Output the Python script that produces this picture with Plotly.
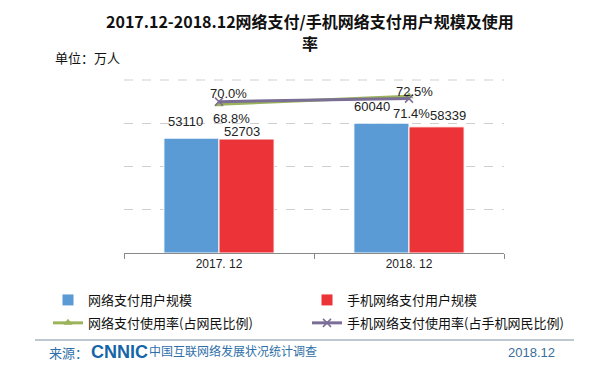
import plotly.graph_objects as go

categories = ["2017. 12", "2018. 12"]
online_users = [53110, 60040]
mobile_users = [52703, 58339]
online_rate = [68.8, 72.5]
mobile_rate = [70.0, 71.4]

names = ["网络支付用户规模", "手机网络支付用户规模",
         "网络支付使用率(占网民比例)", "手机网络支付使用率(占手机网民比例)"]

BLUE = "#5B9BD5"
RED = "#EB3338"
GREEN = "#9BB35A"
PURPLE = "#7B6E96"
FOOT = "#2E6FA8"
LBL = "Liberation Sans, Arial, sans-serif"
CJK = "Noto Sans CJK SC, sans-serif"

fig = go.Figure()
fig.add_trace(go.Bar(x=categories, y=online_users, name=names[0], marker=dict(color=BLUE, line=dict(color="white", width=1)),
                     legend="legend", legendgroup="a"))
fig.add_trace(go.Bar(x=categories, y=mobile_users, name=names[1], marker=dict(color=RED, line=dict(color="white", width=1)),
                     legend="legend2", legendgroup="b"))
fig.add_trace(go.Scatter(x=categories, y=online_rate, name=names[2], yaxis="y2", mode="lines+markers",
                         line=dict(color=GREEN, width=3), marker=dict(symbol="triangle-up", size=8, color=GREEN),
                         legend="legend", legendgroup="c"))
fig.add_trace(go.Scatter(x=categories, y=mobile_rate, name=names[3], yaxis="y2", mode="lines+markers",
                         line=dict(color=PURPLE, width=3), marker=dict(symbol="x-thin", size=8, color=PURPLE,
                                                                       line=dict(color=PURPLE, width=1.5)),
                         legend="legend2", legendgroup="d"))

ann = []
# bar value labels
bar_shift = [(-34, 17), (-37, 17)]
red_shift = [(23, 8), (39, 11)]
for i in range(2):
    ann.append(dict(x=i, y=online_users[i], xref="x", yref="y", text=str(online_users[i]), showarrow=False,
                    xshift=bar_shift[i][0], yshift=bar_shift[i][1], font=dict(size=13, color="#222", family=LBL)))
    ann.append(dict(x=i, y=mobile_users[i], xref="x", yref="y", text=str(mobile_users[i]), showarrow=False,
                    xshift=red_shift[i][0], yshift=red_shift[i][1], font=dict(size=13, color="#222", family=LBL)))
on_shift = [(12, -14), (5, 5)]
mo_shift = [(9, 8), (2, -15)]
for i in range(2):
    ann.append(dict(x=i, y=online_rate[i], xref="x", yref="y2", text=f"{online_rate[i]:.1f}%", showarrow=False,
                    xshift=on_shift[i][0], yshift=on_shift[i][1], font=dict(size=13, color="#222", family=LBL)))
    ann.append(dict(x=i, y=mobile_rate[i], xref="x", yref="y2", text=f"{mobile_rate[i]:.1f}%", showarrow=False,
                    xshift=mo_shift[i][0], yshift=mo_shift[i][1], font=dict(size=13, color="#222", family=LBL)))

W, H = 591, 370
L, R, T, B = 124, 504, 80, 253
def px(x):
    return (x - L) / (R - L)
def py(y):
    return (B - y) / (B - T)

ann += [
    dict(x=px(310), y=py(21), xref="paper", yref="paper", xanchor="center", yanchor="middle", showarrow=False,
         text="<b>2017.12-2018.12网络支付/手机网络支付用户规模及使用</b>",
         font=dict(size=16, color="#111", family=CJK)),
    dict(x=px(310), y=py(43), xref="paper", yref="paper", xanchor="center", yanchor="middle", showarrow=False,
         text="<b>率</b>", font=dict(size=16, color="#111", family=CJK)),
    dict(x=px(53), y=py(58), xref="paper", yref="paper", xanchor="left", yanchor="middle", showarrow=False,
         text="单位：万人", font=dict(size=13, color="#111", family=CJK)),
    dict(x=px(47), y=py(352), xref="paper", yref="paper", xanchor="left", yanchor="middle", showarrow=False,
         text="来源：", font=dict(size=13, color=FOOT, family=CJK)),
    dict(x=px(89), y=py(352), xref="paper", yref="paper", xanchor="left", yanchor="middle", showarrow=False,
         text="<b>CNNIC</b>", font=dict(size=18, color="#1565A8", family=LBL)),
    dict(x=px(147), y=py(350), xref="paper", yref="paper", xanchor="left", yanchor="middle", showarrow=False,
         text="中国互联网络发展状况统计调查", font=dict(size=12, color=FOOT, family=CJK)),
    dict(x=px(557), y=py(352), xref="paper", yref="paper", xanchor="right", yanchor="middle", showarrow=False,
         text="2018.12", font=dict(size=13, color="#3A6D9A", family=LBL)),
]

fig.update_layout(
    width=W, height=H,
    margin=dict(l=L, r=W - R, t=T, b=H - B, autoexpand=False),
    paper_bgcolor="white", plot_bgcolor="white",
    barmode="group", bargap=0.42, bargroupgap=0.0,
    xaxis=dict(type="category", showline=True, linecolor="#888", linewidth=1, ticks="outside", tickson="boundaries",
               ticklen=5, tickcolor="#888", showgrid=False,
               tickfont=dict(size=12, color="#222", family=LBL)),
    yaxis=dict(range=[0, 80000], dtick=20000, tick0=0, showgrid=True, gridcolor="#CFCFCF", griddash="dash",
               showticklabels=False, zeroline=False, showline=False),
    yaxis2=dict(range=[0, 80], overlaying="y", side="right", visible=False),
    legend=dict(x=px(48), y=py(285), xanchor="left", yanchor="top", orientation="v", tracegroupgap=3,
                font=dict(size=13, color="#111", family=CJK), bgcolor="rgba(0,0,0,0)"),
    legend2=dict(x=px(307), y=py(285), xanchor="left", yanchor="top", orientation="v", tracegroupgap=3,
                 font=dict(size=13, color="#111", family=CJK), bgcolor="rgba(0,0,0,0)"),
    annotations=ann,
    shapes=[
        dict(type="line", xref="paper", yref="paper", x0=px(35), x1=px(574), y0=py(340), y1=py(340),
             line=dict(color="#7F8FA6", width=1)),
        dict(type="line", xref="paper", yref="paper", x0=0, x1=1, y0=1, y1=1, layer="below",
             line=dict(color="#CFCFCF", width=1, dash="dash")),
    ],
)

fig.write_html("out.html", post_script="document.body.style.margin='0';",
               config={"displayModeBar": False})
